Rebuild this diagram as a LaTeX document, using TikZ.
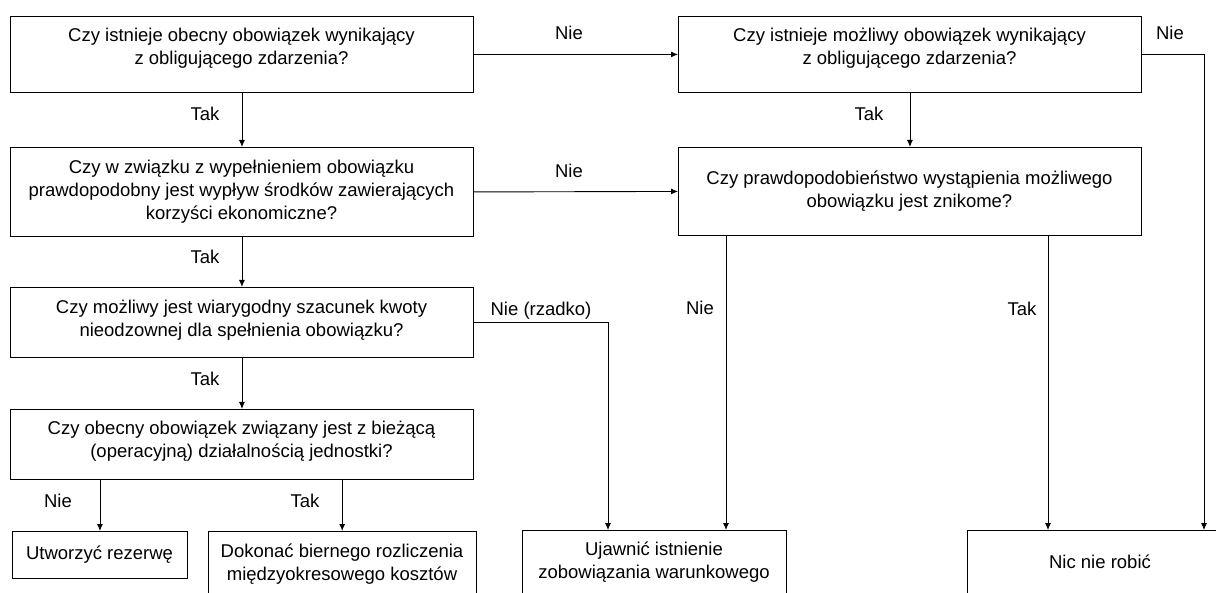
\documentclass[tikz,border=0pt]{standalone}
\usepackage{fontspec}
\setmainfont{Liberation Sans}
\usetikzlibrary{arrows.meta}
\begin{document}
\begin{tikzpicture}[x=1pt,y=-1pt,
  box/.style={draw=black,line width=0.9pt,rectangle,inner sep=0pt,anchor=north west},
  openbox/.style={rectangle,inner sep=0pt,anchor=north west},
  txt/.style={align=center,inner sep=0pt,font=\fontsize{18.5}{23}\selectfont},
  lbl/.style={inner sep=0pt,font=\fontsize{18.5}{23}\selectfont},
  arr/.style={line width=0.9pt,-{Latex[length=7pt,width=6pt]}},
  ln/.style={line width=0.9pt}]
\useasboundingbox (0,0) rectangle (1216,593);
% left column boxes
\node[box,minimum width=463,minimum height=76] (A) at (10,16) {};
\node[txt] (At) at (241.5,48) {Czy istnieje obecny obowiązek wynikający\\z obligującego zdarzenia?};
\node[box,minimum width=463,minimum height=89] (B) at (10,147) {};
\node[txt] (Bt) at (241.5,191.5) {Czy w związku z wypełnieniem obowiązku\\prawdopodobny jest wypływ środków zawierających\\korzyści ekonomiczne?};
\node[box,minimum width=463,minimum height=70] (C) at (10,287) {};
\node[txt] (Ct) at (241.5,320.5) {Czy możliwy jest wiarygodny szacunek kwoty\\nieodzownej dla spełnienia obowiązku?};
\node[box,minimum width=463,minimum height=70] (D) at (10,409) {};
\node[txt] (Dt) at (241.5,441) {Czy obecny obowiązek związany jest z bieżącą\\(operacyjną) działalnością jednostki?};
% right column boxes
\node[box,minimum width=463,minimum height=76] (RA) at (678,16) {};
\node[txt] (RAt) at (909.5,48) {Czy istnieje możliwy obowiązek wynikający\\z obligującego zdarzenia?};
\node[box,minimum width=463,minimum height=88] (RB) at (678,147) {};
\node[txt] (RBt) at (909.5,191.5) {Czy prawdopodobieństwo wystąpienia możliwego\\obowiązku jest znikome?};
% bottom boxes
\node[box,minimum width=175,minimum height=47] (E) at (12,531) {};
\node[txt] (Et) at (99.5,555) {Utworzyć rezerwę};
\node[openbox,minimum width=268,minimum height=62] (F) at (208,531) {};
\draw[ln] (F.south west) -- (F.north west) -- (F.north east) -- (F.south east);
\node[txt] (Ft) at (342,564) {Dokonać biernego rozliczenia\\międzyokresowego kosztów};
\node[openbox,minimum width=264,minimum height=63] (U) at (522,530) {};
\draw[ln] (U.south west) -- (U.north west) -- (U.north east) -- (U.south east);
\node[txt] (Ut) at (654,562.5) {Ujawnić istnienie\\zobowiązania warunkowego};
\node[openbox,minimum width=249,minimum height=63] (N) at (967,530) {};
\draw[ln] (N.south west) -- (N.north west) -- (N.north east);
\node[txt] (Nt) at (1100,562) {Nic nie robić};
% connectors
\draw[arr] (A.south) -- (B.north);
\draw[arr] (B.south) -- (C.north);
\draw[arr] (C.south) -- (D.north);
\draw[arr] (A.east) -- (RA.west);
\draw[arr] (B.east) -- (RB.west);
\draw[arr] (RA.south) -- (RB.north);
\draw[arr] (C.east) -| ([xshift=86pt]U.north west);
\draw[arr] ([xshift=48pt]RB.south west) -- ([xshift=48pt]RB.south west |- U.north);
\draw[arr] ([xshift=370pt]RB.south west) -- ([xshift=370pt]RB.south west |- N.north);
\draw[arr] (RA.east) -| ([xshift=237pt]N.north west);
\draw[arr] (E.north |- D.south) -- (E.north);
\draw[arr] (F.north |- D.south) -- (F.north);
% labels
\node[lbl] (l1) at (205,114) {Tak};
\node[lbl] (l2) at (205,257) {Tak};
\node[lbl] (l3) at (205,379) {Tak};
\node[lbl] (l4) at (58,501) {Nie};
\node[lbl] (l5) at (305,501) {Tak};
\node[lbl] (l6) at (569,33) {Nie};
\node[lbl] (l7) at (569,171) {Nie};
\node[lbl] (l8) at (869,114) {Tak};
\node[lbl] (l9) at (1170,33) {Nie};
\node[lbl] (l10) at (541,311) {Nie (rzadko)};
\node[lbl] (l11) at (700,308) {Nie};
\node[lbl] (l12) at (1022,309) {Tak};
\end{tikzpicture}
\end{document}
